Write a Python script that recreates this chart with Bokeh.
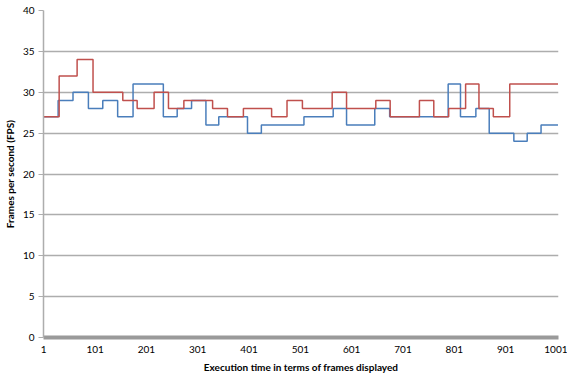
from bokeh.plotting import figure
from bokeh.models import Range1d, FixedTicker
from bokeh.embed import file_html
from bokeh.resources import INLINE

# Step series: frame where each value starts, and the FPS value
blue_start = [1, 29, 58, 88, 116, 145, 175, 234, 261, 289, 317, 342, 398, 425,
              508, 565, 591, 646, 675, 789, 813, 843, 869, 917, 943, 970, 1003]
blue_fps = [27, 29, 30, 28, 29, 27, 31, 27, 28, 29, 26, 27, 25, 26,
            27, 28, 26, 28, 27, 31, 27, 28, 25, 24, 25, 26, 26]

red_start = [1, 31, 66, 97, 155, 183, 216, 244, 274, 330, 359, 390, 445, 475,
             505, 563, 591, 648, 676, 733, 761, 790, 823, 849, 877, 909, 1003]
red_fps = [27, 32, 34, 30, 29, 28, 30, 28, 29, 28, 27, 28, 27, 29,
           28, 30, 28, 29, 27, 29, 27, 28, 31, 28, 27, 31, 31]

x_ticks = [1, 101, 201, 301, 401, 501, 601, 701, 801, 901, 1001]
y_ticks = [0, 5, 10, 15, 20, 25, 30, 35, 40]

p = figure(frame_width=515, frame_height=327, output_backend="svg", toolbar_location=None,
           x_range=Range1d(0.5, 1004), y_range=Range1d(0, 40),
           min_border_left=35, min_border_right=9, min_border_top=10, min_border_bottom=24)
p.outline_line_color = None
p.background_fill_color = "white"
p.border_fill_color = "white"

p.step(blue_start, blue_fps, mode="after", line_color="#4a7ebb", line_width=1.5)
p.step(red_start, red_fps, mode="after", line_color="#c0504d", line_width=1.5)

p.xgrid.grid_line_color = None
p.ygrid.grid_line_color = "#adadad"
p.ygrid.grid_line_width = 1.5
p.ygrid.ticker = FixedTicker(ticks=y_ticks)

p.xaxis.ticker = FixedTicker(ticks=x_ticks)
p.yaxis.ticker = FixedTicker(ticks=y_ticks)
p.xaxis.minor_tick_line_color = None
p.yaxis.minor_tick_line_color = None
p.xaxis.major_tick_line_color = None
p.xaxis.major_tick_in = 0
p.xaxis.major_tick_out = 0
p.xaxis.axis_line_color = "#9a9a9a"
p.xaxis.axis_line_width = 4
p.yaxis.axis_line_color = "#adadad"
p.yaxis.axis_line_width = 1.5
p.yaxis.major_tick_line_color = "#adadad"
p.yaxis.major_tick_in = 0
p.yaxis.major_tick_out = 5

for ax in (p.xaxis, p.yaxis):
    ax.major_label_text_font = "Lato"
    ax.major_label_text_font_size = "10px"
    ax.major_label_text_color = "#000000"
    ax.axis_label_text_font = "Lato"
    ax.axis_label_text_font_size = "10px"
    ax.axis_label_text_font_style = "bold"
    ax.axis_label_text_color = "#000000"

p.xaxis.major_label_standoff = 8
p.xaxis.axis_label_standoff = 5
p.yaxis.major_label_standoff = 4
p.yaxis.axis_label_standoff = 4
p.xaxis.axis_label = "Execution time in terms of frames displayed"
p.yaxis.axis_label = "Frames per second (FPS)"

open("out.html", "w").write(file_html(p, INLINE))
